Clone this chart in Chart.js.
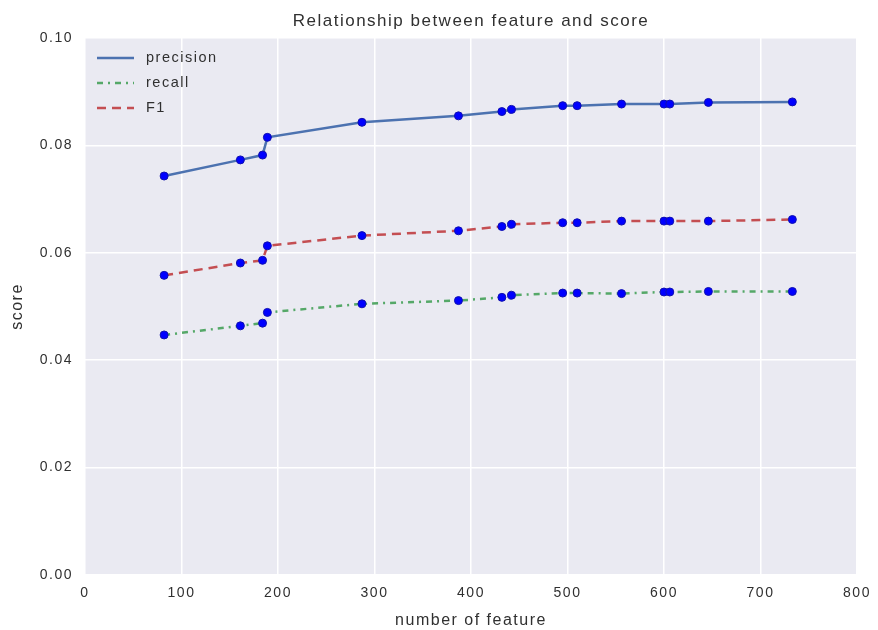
<!DOCTYPE html>
<html>
<head>
<meta charset="utf-8">
<script src="https://cdn.jsdelivr.net/npm/chart.js@4.4.0/dist/chart.umd.min.js"></script>
<style>
  html, body { margin: 0; padding: 0; background: #fff; }
</style>
</head>
<body>
<canvas id="score-chart" width="878" height="630"></canvas>
<script>
// number of features tried
const features = [82, 161, 184, 189, 287, 387, 432, 442, 495, 510, 556, 600, 606, 646, 733];
const precision = [0.0743, 0.0773, 0.0782, 0.0815, 0.0843, 0.0855, 0.0863, 0.0867, 0.0874, 0.0874, 0.0877, 0.0877, 0.0877, 0.0880, 0.0881];
const recall = [0.0447, 0.0464, 0.0469, 0.0489, 0.0505, 0.0511, 0.0517, 0.0521, 0.0525, 0.0525, 0.0524, 0.0527, 0.0527, 0.0528, 0.0528];
const f1 = [0.0558, 0.0581, 0.0586, 0.0613, 0.0632, 0.0641, 0.0649, 0.0653, 0.0656, 0.0656, 0.0659, 0.0659, 0.0659, 0.0659, 0.0662];

const FONT = "'Liberation Sans', Arial, sans-serif";
const TEXT = "#303030";

function pts(ys) {
    return features.map((x, i) => ({ x: x, y: ys[i] }));
}

const series = [
    { label: "precision", data: precision, color: "#4C72B0", dash: [] },
    { label: "recall", data: recall, color: "#55A868", dash: [6, 5, 2, 5] },
    { label: "F1", data: f1, color: "#C44E52", dash: [9, 6] }
];

// the old matplotlib render has loose letter spacing
const spacing = {
    id: "spacing",
    beforeUpdate(chart) { chart.ctx.letterSpacing = "1.5px"; },
    beforeDraw(chart) { chart.ctx.letterSpacing = "1.5px"; }
};

// grey plot background like seaborn darkgrid
const bgPlugin = {
    id: "plotBg",
    beforeDraw(chart) {
        const a = chart.chartArea;
        const ctx = chart.ctx;
        ctx.save();
        ctx.fillStyle = "#EAEAF2";
        ctx.fillRect(a.left, a.top, a.right - a.left, a.bottom - a.top);
        ctx.restore();
    }
};

// legend drawn inside the plot, top left
const insideLegend = {
    id: "insideLegend",
    afterDatasetsDraw(chart) {
        const ctx = chart.ctx;
        const a = chart.chartArea;
        ctx.save();
        series.forEach((s, i) => {
            const y = a.top + 20 + i * 25;
            ctx.beginPath();
            ctx.strokeStyle = s.color;
            ctx.lineWidth = 2.5;
            ctx.setLineDash(s.dash);
            ctx.moveTo(a.left + 12, y);
            ctx.lineTo(a.left + 49, y);
            ctx.stroke();
            ctx.setLineDash([]);
            ctx.fillStyle = TEXT;
            ctx.font = "14.5px " + FONT;
            ctx.textBaseline = "middle";
            ctx.fillText(s.label, a.left + 61, y);
        });
        ctx.restore();
    }
};

new Chart(document.getElementById("score-chart"), {
    type: "line",
    data: {
        datasets: series.map(s => ({
            label: s.label,
            data: pts(s.data),
            borderColor: s.color,
            backgroundColor: s.color,
            borderDash: s.dash,
            borderWidth: 2.5,
            fill: false,
            tension: 0,
            pointRadius: 4,
            pointBackgroundColor: "#0000FF",
            pointBorderColor: "#1010B0",
            pointBorderWidth: 1
        }))
    },
    options: {
        responsive: false,
        animation: false,
        layout: { padding: { left: 4, right: 21, top: 0, bottom: 0 } },
        plugins: {
            legend: { display: false },
            tooltip: { enabled: false },
            title: {
                display: true,
                fullSize: false,
                text: "Relationship between feature and score",
                color: TEXT,
                font: { family: FONT, size: 17, weight: "normal" },
                padding: { top: 11, bottom: 6.6 }
            }
        },
        scales: {
            x: {
                type: "linear",
                min: 0,
                max: 800,
                afterFit(scale) {
                    scale.height = 55;
                    scale.paddingLeft = 0;
                    scale.paddingRight = 0;
                },
                ticks: { stepSize: 100, padding: 10, color: TEXT, font: { family: FONT, size: 14 } },
                grid: { color: "#FFFFFF", lineWidth: 1.5, drawTicks: false },
                border: { display: false },
                title: {
                    display: true,
                    text: "number of feature",
                    color: TEXT,
                    font: { family: FONT, size: 16 },
                    padding: { top: 0, bottom: 0 }
                }
            },
            y: {
                min: 0,
                max: 0.1,
                afterFit(scale) {
                    scale.width = 81;
                    scale.paddingTop = 0;
                    scale.paddingBottom = 0;
                },
                ticks: {
                    stepSize: 0.02,
                    padding: 12,
                    color: TEXT,
                    font: { family: FONT, size: 14 },
                    callback: v => v.toFixed(2)
                },
                grid: { color: "#FFFFFF", lineWidth: 1.5, drawTicks: false },
                border: { display: false },
                title: {
                    display: true,
                    text: "score",
                    color: TEXT,
                    font: { family: FONT, size: 16 },
                    padding: { top: 3.5, bottom: 0 }
                }
            }
        }
    },
    plugins: [spacing, bgPlugin, insideLegend]
});
</script>
</body>
</html>
